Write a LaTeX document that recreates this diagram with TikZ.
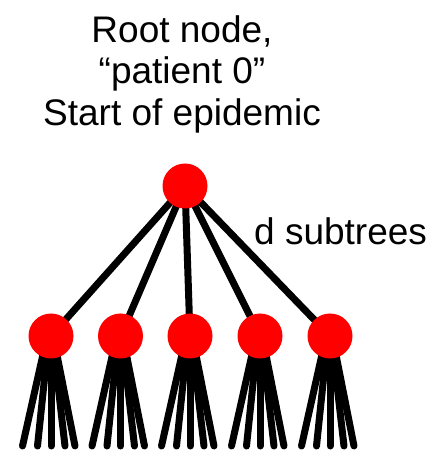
\documentclass[tikz,border=0pt]{standalone}
\usepackage{fontspec}
\setmainfont{Liberation Sans}
\usetikzlibrary{calc,backgrounds}
\begin{document}
\begin{tikzpicture}[x=1pt,y=1pt,
  dot/.style={circle,fill=red,minimum size=45pt,inner sep=0pt},
  edge/.style={line width=7pt,line cap=round,draw=black},
  lbl/.style={font=\fontsize{37}{41.5}\selectfont,inner sep=0pt}]
\useasboundingbox (0,0) rectangle (445,451);
\node[lbl,anchor=base] (t1) at (182,408.5) {Root node,};
\node[lbl,anchor=base] (t2) at (182,367) {“patient 0”};
\node[lbl,anchor=base] (t3) at (182,325.5) {Start of epidemic};
\node[lbl,anchor=base west] (d) at (254,206) {d subtrees};
\node[dot] (r) at (185,265) {};
\foreach \i/\x in {1/51,2/120.5,3/190,4/260,5/330} {
  \node[dot] (c\i) at (\x,115) {};
}
\begin{scope}[on background layer]
\foreach \i in {1,...,5} {
  \draw[edge] (r.center) -- (c\i.center);
  \foreach \j/\s/\e in {1/-7/-28.5,2/-3.5/-13.5,3/0/0,4/3/14,5/5/24} {
    \coordinate (c\i s\j) at ($(c\i.center)+(\s,-14)$);
    \coordinate (c\i e\j) at ($(c\i.center)+(\e,-110)$);
    \draw[edge] (c\i s\j) -- (c\i e\j);
  }
}
\end{scope}
\end{tikzpicture}
\end{document}
